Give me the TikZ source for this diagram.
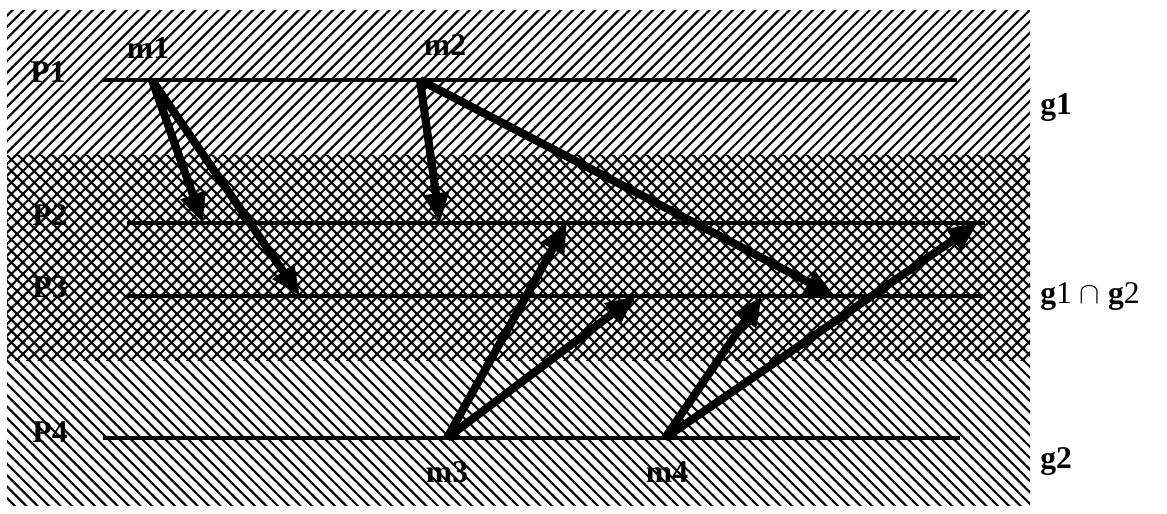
\documentclass[tikz,border=0pt]{standalone}
\usepackage{fontspec}
\setmainfont{Liberation Serif}
\usetikzlibrary{arrows.meta,patterns.meta}

\begin{document}
\begin{tikzpicture}[x=0.02cm,y=-0.02cm,
  proc/.style={line width=2.2pt},
  msg/.style={line width=4.6pt,-{Triangle[length=17pt,width=14pt]}},
  lbl/.style={font=\fontsize{18}{20}\selectfont\bfseries,inner sep=0pt}]
\useasboundingbox (0,0) rectangle (1167,514);
% group zones
\fill[pattern={Lines[angle=45,distance=4.6pt,line width=1.2pt]}] (7,10) rectangle (1030,155);
\fill[pattern={Hatch[angle=45,distance=4.6pt,line width=1.2pt]}] (7,155) rectangle (1030,360);
\fill[pattern={Lines[angle=-45,distance=4.6pt,line width=1.2pt]}] (7,360) rectangle (1030,505);
% processes
\coordinate (p1s) at (103,80);  \coordinate (p1e) at (957,80);
\coordinate (p2s) at (127,223); \coordinate (p2e) at (985,223);
\coordinate (p3s) at (127,296); \coordinate (p3e) at (983,296);
\coordinate (p4s) at (103,438); \coordinate (p4e) at (960,438);
\draw[proc] (p1s) -- (p1e);
\draw[proc] (p2s) -- (p2e);
\draw[proc] (p3s) -- (p3e);
\draw[proc] (p4s) -- (p4e);
\node[lbl] (l1) at (48,72) {P1};
\node[lbl] (l2) at (50,215) {P2};
\node[lbl] (l3) at (50,287) {P3};
\node[lbl] (l4) at (50,432) {P4};
% groups
\node[lbl,anchor=west] (g1) at (1040,108) {g1};
\node[lbl,anchor=west] (g12) at (1040,297) {g\textmd{1} $\cap$ g\textmd{2}};
\node[lbl,anchor=west] (g2) at (1040,462) {g2};
% messages
\coordinate (m1) at (152,80);
\coordinate (m2) at (420,80);
\coordinate (m3) at (447,438);
\coordinate (m4) at (665,438);
\node[lbl] (t1) at (148,48) {m1};
\node[lbl] (t2) at (445,45) {m2};
\node[lbl] (t3) at (447,472) {m3};
\node[lbl] (t4) at (667,472) {m4};
\coordinate (r12) at (203,223); \coordinate (r13) at (300,296);
\coordinate (r22) at (440,223); \coordinate (r23) at (835,296);
\coordinate (r32) at (567,223); \coordinate (r33) at (636,296);
\coordinate (r43) at (762,296); \coordinate (r42) at (978,223);
\draw[msg] (m1) -- (r12);
\draw[msg] (m1) -- (r13);
\draw[msg] (m2) -- (r22);
\draw[msg] (m2) -- (r23);
\draw[msg] (m3) -- (r32);
\draw[msg] (m3) -- (r33);
\draw[msg] (m4) -- (r43);
\draw[msg] (m4) -- (r42);
\end{tikzpicture}
\end{document}
